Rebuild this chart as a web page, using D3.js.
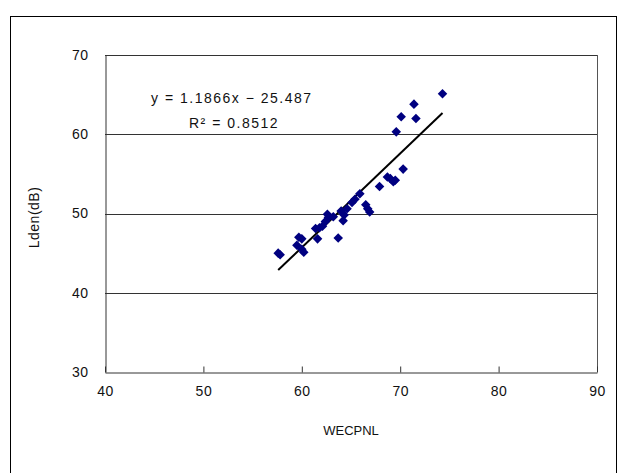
<!DOCTYPE html>
<html>
<head>
<meta charset="utf-8">
<script src="https://cdn.jsdelivr.net/npm/d3@7"></script>
<style>
  body { margin: 0; background: #fff; }
  text { font-family: "Liberation Sans", Arial, sans-serif; fill: #111; }
</style>
</head>
<body>
<div id="chart"></div>
<script>
"use strict";
// WECPNL (x) vs Lden (y)
const wecpnl = [57.6, 57.8, 59.5, 59.7, 60.0, 60.0, 60.2, 61.4, 61.6, 61.8, 62.1, 62.4,
  62.6, 62.7, 63.2, 63.7, 64.0, 64.2, 64.3, 64.6, 65.1, 65.4, 65.9, 66.5, 66.7, 66.9,
  67.9, 68.7, 69.0, 69.3, 69.5, 70.3, 69.6, 70.1, 71.4, 71.6, 74.3];
const lden = [45.0, 44.8, 46.0, 47.0, 46.8, 45.5, 45.1, 48.1, 46.8, 48.2, 48.4, 49.0,
  49.9, 49.5, 49.6, 46.9, 50.3, 49.1, 49.8, 50.6, 51.4, 51.8, 52.5, 51.1, 50.6, 50.2,
  53.4, 54.6, 54.4, 54.0, 54.2, 55.6, 60.3, 62.2, 63.8, 62.0, 65.1];
const xTicks = [40, 50, 60, 70, 80, 90];
const yTicks = [30, 40, 50, 60, 70];
const slope = 1.1866;
const intercept = -25.487;
const eqLabel = "y = 1.1866x \u2212 25.487";
const r2Label = "R\u00b2 = 0.8512";

const width = 619;
const height = 473;
const plot = { left: 105, right: 597, top: 55, bottom: 372 };

const svg = d3.select("#chart")
  .append("svg")
  .attr("width", width)
  .attr("height", height);

// outer chart frame
svg.append("rect")
  .attr("x", 10.5)
  .attr("y", 16.5)
  .attr("width", 606)
  .attr("height", 470)
  .attr("fill", "none")
  .attr("stroke", "#000");

const x = d3.scaleLinear().domain([40, 90]).range([plot.left, plot.right]);
const y = d3.scaleLinear().domain([30, 70]).range([plot.bottom, plot.top]);

// horizontal gridlines
svg.append("g")
  .selectAll("line")
  .data(yTicks.slice(1))
  .enter()
  .append("line")
  .attr("x1", plot.left)
  .attr("x2", plot.right)
  .attr("y1", d => Math.round(y(d)) + 0.5)
  .attr("y2", d => Math.round(y(d)) + 0.5)
  .attr("stroke", "#333");

// right border of the plot area
svg.append("line")
  .attr("x1", plot.right + 0.5)
  .attr("x2", plot.right + 0.5)
  .attr("y1", plot.top)
  .attr("y2", plot.bottom)
  .attr("stroke", "#555");

const xAxis = d3.axisBottom(x).tickValues(xTicks).tickSizeInner(-6).tickSizeOuter(0).tickPadding(14);
const yAxis = d3.axisLeft(y).tickValues(yTicks).tickSizeInner(0).tickSizeOuter(0).tickPadding(17);

const gx = svg.append("g")
  .attr("transform", `translate(0, ${plot.bottom + 0.5})`)
  .call(xAxis);
const gy = svg.append("g")
  .attr("transform", `translate(${plot.left + 0.5}, 0)`)
  .call(yAxis);

[gx, gy].forEach(g => {
  g.select(".domain").attr("stroke", "#333");
  g.selectAll(".tick line").attr("stroke", "#333");
  g.selectAll(".tick text")
    .attr("font-size", 14)
    .attr("letter-spacing", 0.5)
    .attr("font-family", "'Liberation Sans', Arial, sans-serif")
    .attr("fill", "#111");
});

// regression line over the data range
const xr = d3.extent(wecpnl);
svg.append("line")
  .attr("x1", x(xr[0]))
  .attr("y1", y(slope * xr[0] + intercept))
  .attr("x2", x(xr[1]))
  .attr("y2", y(slope * xr[1] + intercept))
  .attr("stroke", "#000")
  .attr("stroke-width", 2);

// diamond markers
const diamond = d3.symbol().type(d3.symbolDiamond2).size(58);
svg.append("g")
  .selectAll("path")
  .data(wecpnl.map((d, i) => [d, lden[i]]))
  .enter()
  .append("path")
  .attr("d", diamond)
  .attr("transform", d => `translate(${x(d[0])}, ${y(d[1])})`)
  .attr("fill", "#000080");

// equation labels
svg.append("text")
  .attr("x", 151)
  .attr("y", 103)
  .attr("font-size", 14)
  .attr("letter-spacing", 1.5)
  .text(eqLabel);
svg.append("text")
  .attr("x", 189)
  .attr("y", 128)
  .attr("font-size", 14)
  .attr("letter-spacing", 1.5)
  .text(r2Label);

// axis titles
svg.append("text")
  .attr("x", x(65))
  .attr("y", 435)
  .attr("text-anchor", "middle")
  .attr("font-size", 13)
  .text("WECPNL");
svg.append("text")
  .attr("transform", `translate(39, ${y(49.5)}) rotate(-90)`)
  .attr("text-anchor", "middle")
  .attr("font-size", 14)
  .attr("letter-spacing", 0.5)
  .text("Lden(dB)");
</script>
</body>
</html>
